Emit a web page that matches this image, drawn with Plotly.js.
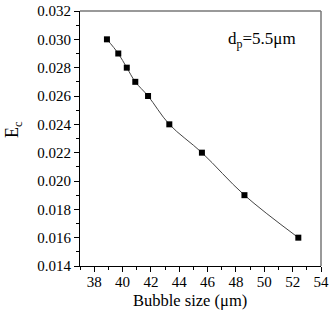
<!DOCTYPE html>
<html>
<head>
<meta charset="utf-8">
<script src="https://cdn.plot.ly/plotly-3.0.1.min.js"></script>
<style>html,body{margin:0;padding:0;background:#fff;}#chart{width:330px;height:310px;}</style>
</head>
<body>
<div id="chart"></div>
<script>
const bubbleSize = [38.9, 39.7, 40.3, 40.9, 41.8, 43.3, 45.6, 48.6, 52.4];
const ec = [0.030, 0.029, 0.028, 0.027, 0.026, 0.024, 0.022, 0.019, 0.016];
const xTicks = [38, 40, 42, 44, 46, 48, 50, 52, 54];
const yTicks = [0.014, 0.016, 0.018, 0.020, 0.022, 0.024, 0.026, 0.028, 0.030, 0.032];

const fam = 'Liberation Serif';
const f = size => ({family: fam, size: size, color: '#000'});

const trace = {
  x: bubbleSize, y: ec, type: 'scatter', mode: 'lines+markers',
  line: {color: '#444', width: 1, shape: 'spline'},
  marker: {symbol: 'square', size: 6, color: '#000'}
};

const layout = {
  width: 330, height: 310,
  margin: {l: 80, r: 9, t: 11, b: 44},
  paper_bgcolor: '#fff', plot_bgcolor: '#fff',
  showlegend: false,
  font: f(15),
  xaxis: {
    range: [37, 54], tickvals: xTicks, ticktext: xTicks.map(String),
    ticks: 'outside', ticklen: 5, tickwidth: 1, tickcolor: '#000',
    minor: {dtick: 1, ticks: 'outside', ticklen: 3, tickcolor: '#000'},
    showline: true, linecolor: '#000', linewidth: 1, showgrid: false, zeroline: false,
    tickfont: f(15), ticklabelstandoff: -3
  },
  yaxis: {
    range: [0.014, 0.032], tickvals: yTicks, ticktext: yTicks.map(v => v.toFixed(3)),
    ticks: 'outside', ticklen: 5, tickwidth: 1, tickcolor: '#000',
    minor: {dtick: 0.001, ticks: 'outside', ticklen: 3, tickcolor: '#000'},
    showline: true, linecolor: '#000', linewidth: 1, showgrid: false, zeroline: false,
    tickfont: f(15)
  },
  shapes: [
    {type: 'line', xref: 'paper', yref: 'paper', x0: 0, x1: 1, y0: 1, y1: 1, line: {color: '#777', width: 1.5}},
    {type: 'line', xref: 'paper', yref: 'paper', x0: 1, x1: 1, y0: 0, y1: 1, line: {color: '#777', width: 1.5}}
  ],
  annotations: [
    {xref: 'paper', yref: 'paper', x: 0.905, y: 0.886, xanchor: 'right', yanchor: 'middle',
     text: 'd<sub>p</sub>=5.5μm', showarrow: false, font: f(17)},
    {xref: 'paper', yref: 'paper', x: 0.456, y: -0.135, xanchor: 'center', yanchor: 'middle',
     text: 'Bubble size (μm)', showarrow: false, font: f(16.5)},
    {xref: 'paper', yref: 'paper', x: -0.278, y: 0.533, xanchor: 'center', yanchor: 'middle',
     text: 'E<sub>c</sub>', textangle: -90, showarrow: false, font: f(18)}
  ]
};

Plotly.newPlot('chart', [trace], layout, {displayModeBar: false, staticPlot: true});
</script>
</body>
</html>
